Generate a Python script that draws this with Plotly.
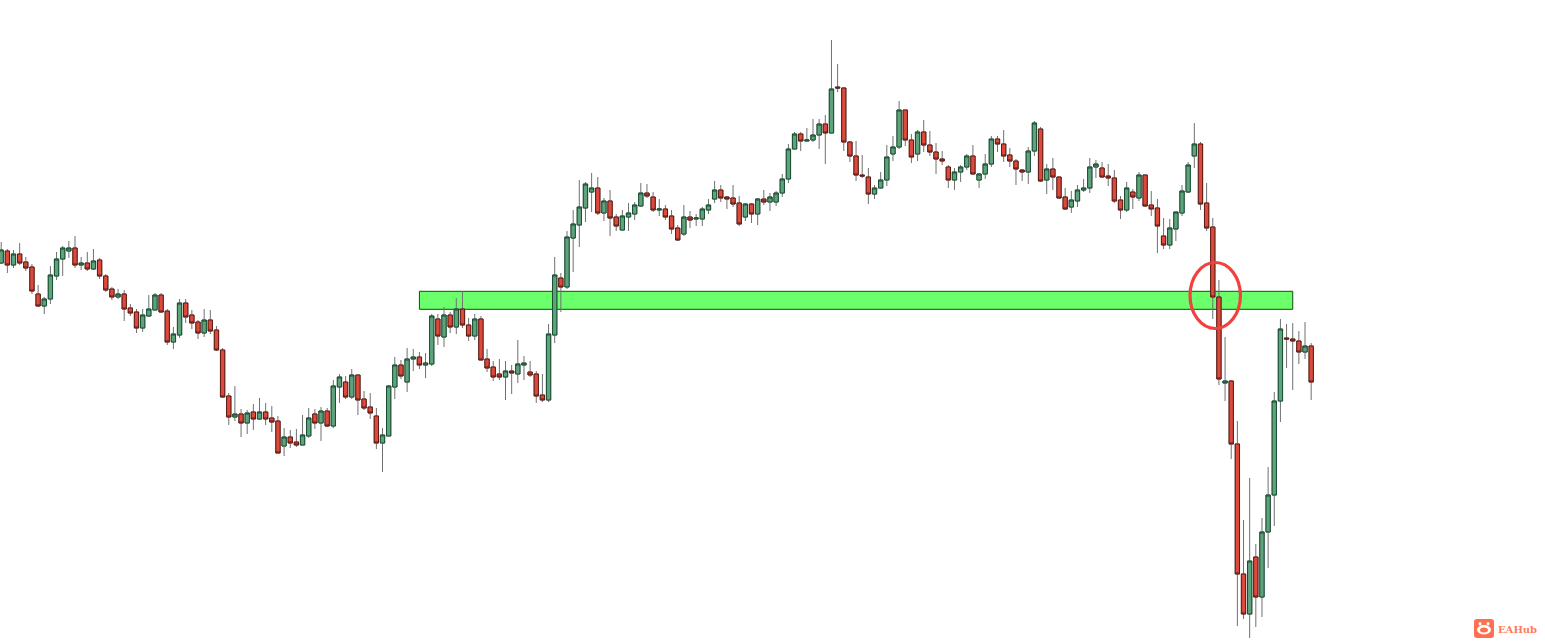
import plotly.graph_objects as go

# Candle values (price scale: arbitrary units, hidden axis)
highs = [
402,395,394,401,387,380,359,347,378,392,
398,403,408,387,392,395,386,370,357,355,
354,340,335,335,349,351,351,335,317,345,
345,334,324,335,334,318,296,251,258,235,
234,240,246,241,238,228,216,214,215,229,
236,235,237,236,264,270,268,275,269,253,
251,236,216,259,287,284,296,295,292,291,
330,330,337,332,346,353,326,330,328,295,
283,285,283,279,304,288,283,273,270,320,
387,371,413,434,464,462,471,467,446,454,
430,434,441,442,461,460,452,445,439,434,
419,439,433,430,437,445,463,459,448,459,
448,441,441,446,454,451,453,470,500,512,
512,516,525,525,529,604,580,557,503,503,
489,476,459,472,499,508,543,534,510,514,
524,513,501,493,479,476,479,490,499,471,
490,508,508,514,496,485,475,497,523,517,
480,486,467,456,453,459,465,486,484,482,
480,474,448,462,455,472,469,453,445,426,
425,432,459,482,521,502,461,426,364,307,
264,223,124,166,100,126,177,252,325,320,
321,313,322,301]

body_top = [
394,393,390,390,382,377,350,345,369,385,
396,396,396,381,381,383,384,368,355,350,
350,336,332,329,335,349,349,333,310,341,
341,329,322,324,324,314,294,248,230,230,
231,232,232,232,226,223,207,207,202,209,
226,230,233,233,258,267,262,269,269,245,
237,228,209,258,279,279,285,287,287,281,
328,325,329,329,335,335,319,325,325,285,
277,270,273,273,280,281,272,270,249,310,
369,366,407,420,437,460,456,456,443,443,
427,428,431,439,451,451,447,435,435,428,
416,427,427,426,435,439,454,454,447,446,
441,440,440,445,445,447,451,465,495,510,
510,504,509,520,520,555,557,556,502,488,
469,467,456,464,487,497,534,534,504,512,
512,499,492,485,477,472,477,488,488,470,
480,505,505,500,489,483,474,493,521,515,
475,475,467,447,444,454,456,477,480,476,
468,466,444,456,452,469,469,439,436,408,
416,432,453,479,500,500,441,417,347,263,
263,200,70,83,87,112,149,243,315,306,
305,303,298,298]

body_bottom = [
381,379,379,381,376,353,338,338,345,368,
385,393,379,379,375,375,368,354,347,347,
335,331,316,316,328,334,332,302,302,309,
327,321,311,311,313,294,247,227,227,221,
221,225,225,225,222,191,198,201,199,199,
208,221,221,218,218,257,247,247,244,236,
231,201,201,208,257,268,262,285,279,279,
280,308,307,317,317,319,308,308,284,276,
267,267,267,271,270,279,269,248,244,244,
309,357,357,406,419,436,452,431,431,426,
418,414,427,430,438,448,434,434,427,415,
404,410,424,425,425,434,445,446,445,440,
420,427,430,430,442,442,442,451,465,495,
503,503,504,509,511,511,556,502,488,469,
468,450,450,456,464,490,497,504,487,490,
499,492,485,483,464,464,472,477,470,464,
470,480,500,488,483,475,472,472,493,463,
464,467,446,435,437,443,454,456,477,467,
466,443,434,434,447,446,438,435,418,399,
399,415,431,452,488,440,416,347,265,261,
200,70,30,30,47,47,112,149,243,305,
303,292,292,262]

lows = [
380,371,376,379,373,350,337,330,340,364,
368,386,376,374,373,374,365,352,344,345,
323,328,311,312,327,334,331,299,295,306,
321,315,305,307,310,293,246,219,223,207,
210,214,224,219,212,191,188,196,197,199,
206,215,203,217,216,241,245,245,229,234,
225,195,172,208,245,265,252,273,275,266,
278,299,297,311,310,316,303,304,284,272,
263,264,244,250,261,264,267,241,242,242,
301,332,355,372,397,422,432,429,423,408,
413,414,413,424,437,446,432,428,424,410,
403,408,416,418,418,430,441,442,435,437,
418,423,421,419,439,433,438,447,461,495,
493,503,502,495,480,511,552,493,482,463,
466,440,445,456,458,483,495,498,481,483,
492,488,470,479,456,454,462,474,470,456,
465,477,492,482,477,459,463,460,488,462,
450,454,445,434,431,437,452,451,466,466,
458,441,425,432,435,443,437,428,391,395,
395,403,428,451,476,434,413,325,259,243,
185,18,25,6,17,27,76,118,222,276,
254,280,285,244]

directions = (
"UDUDDDDUUU" "UUDUDUDDDU" "DDDUUUDDUU" "DDDUDDDDUD"
"UDUDDDUDDU" "UDUDUUDUDD" "DDUUUDUUDU" "UDUDUDDUDD"
"DDUDUUDDDU" "UDUUUUUDUD" "DUUUUDDUDD" "DUDUUUUDDD"
"DUDUDUUUUU" "DUUUDUDDDD" "DDUUUUUDDU" "DDDDDUUUDU"
"UUDDDDDUUD" "UDDDUUUUUD" "DDDUDUDDDD" "UUUUUDDDDU"
"DDDUDUUUUD" "DDUD"
)

zone_index = [68, 210]
zone_price = [334.7, 352.7]
circle_index = [193.3, 201.5]
circle_price = [315.5, 381.5]

index = list(range(len(highs)))
opens = [b if d == "U" else t for b, t, d in zip(body_bottom, body_top, directions)]
closes = [t if d == "U" else b for b, t, d in zip(body_bottom, body_top, directions)]

WICK = "#707070"
GREEN_FILL = "#5fa37c"
GREEN_LINE = "#174f33"
RED_FILL = "#dc4a3b"
RED_LINE = "#5e1a14"

fig = go.Figure()
fig.add_trace(go.Candlestick(
    x=index, open=opens, high=highs, low=lows, close=closes,
    whiskerwidth=0,
    increasing=dict(line=dict(color=WICK, width=1), fillcolor=GREEN_FILL),
    decreasing=dict(line=dict(color=WICK, width=1), fillcolor=RED_FILL),
    hoverinfo="skip",
))
fig.add_trace(go.Candlestick(
    x=index, open=opens, close=closes,
    high=body_top, low=body_bottom,
    whiskerwidth=0,
    increasing=dict(line=dict(color=GREEN_LINE, width=1), fillcolor=GREEN_FILL),
    decreasing=dict(line=dict(color=RED_LINE, width=1), fillcolor=RED_FILL),
    hoverinfo="skip",
))

W, H = 1545, 644
def px(x): return x / W
def py(y): return 1 - y / H

def rounded(x0, y0, x1, y1, r):
    return (f"M {px(x0+r)} {py(y0)} L {px(x1-r)} {py(y0)} Q {px(x1)} {py(y0)} {px(x1)} {py(y0+r)} "
            f"L {px(x1)} {py(y1-r)} Q {px(x1)} {py(y1)} {px(x1-r)} {py(y1)} "
            f"L {px(x0+r)} {py(y1)} Q {px(x0)} {py(y1)} {px(x0)} {py(y1-r)} "
            f"L {px(x0)} {py(y0+r)} Q {px(x0)} {py(y0)} {px(x0+r)} {py(y0)} Z")

LOGO = "#ff6f50"
shapes = [
    dict(type="rect", xref="x", yref="y", layer="below",
         x0=zone_index[0], x1=zone_index[1], y0=zone_price[0], y1=zone_price[1],
         fillcolor="#6cff6c", line=dict(color="#0b4f0b", width=1)),
    dict(type="circle", xref="x", yref="y", layer="above",
         x0=circle_index[0], x1=circle_index[1], y0=circle_price[0], y1=circle_price[1],
         line=dict(color="#f2403f", width=3.2)),
    dict(type="path", xref="paper", yref="paper", path=rounded(1474, 619, 1494, 638, 3),
         fillcolor=LOGO, line=dict(width=0)),
    dict(type="circle", xref="paper", yref="paper",
         x0=px(1477), x1=px(1491), y0=py(634.5), y1=py(625),
         fillcolor="white", line=dict(width=0)),
    dict(type="circle", xref="paper", yref="paper",
         x0=px(1478.5), x1=px(1481.5), y0=py(625.5), y1=py(622),
         fillcolor="white", line=dict(width=0)),
    dict(type="circle", xref="paper", yref="paper",
         x0=px(1486.5), x1=px(1489.5), y0=py(625.5), y1=py(622),
         fillcolor="white", line=dict(width=0)),
    dict(type="circle", xref="paper", yref="paper",
         x0=px(1480), x1=px(1488), y0=py(632.5), y1=py(627.5),
         fillcolor=LOGO, line=dict(width=0)),
]

fig.update_layout(
    width=W, height=H,
    autosize=False,
    margin=dict(l=0, r=0, t=0, b=0),
    paper_bgcolor="white", plot_bgcolor="white",
    showlegend=False,
    boxmode="overlay",
    boxgap=0.3,
    boxgroupgap=0,
    hovermode=False,
    xaxis=dict(range=[-0.195, 251.02], visible=False, rangeslider=dict(visible=False), fixedrange=True),
    yaxis=dict(range=[0, 644], visible=False, fixedrange=True),
    shapes=shapes,
    annotations=[dict(
        xref="paper", yref="paper", x=px(1517.5), y=py(629.5),
        xanchor="center", yanchor="middle", showarrow=False,
        text="<b>EAHub</b>",
        font=dict(family="DejaVu Serif", size=10, color="#ff7a5c"),
    )],
)

fig.write_html("out.html", config={"displayModeBar": False},
               post_script="document.body.style.margin='0';")
